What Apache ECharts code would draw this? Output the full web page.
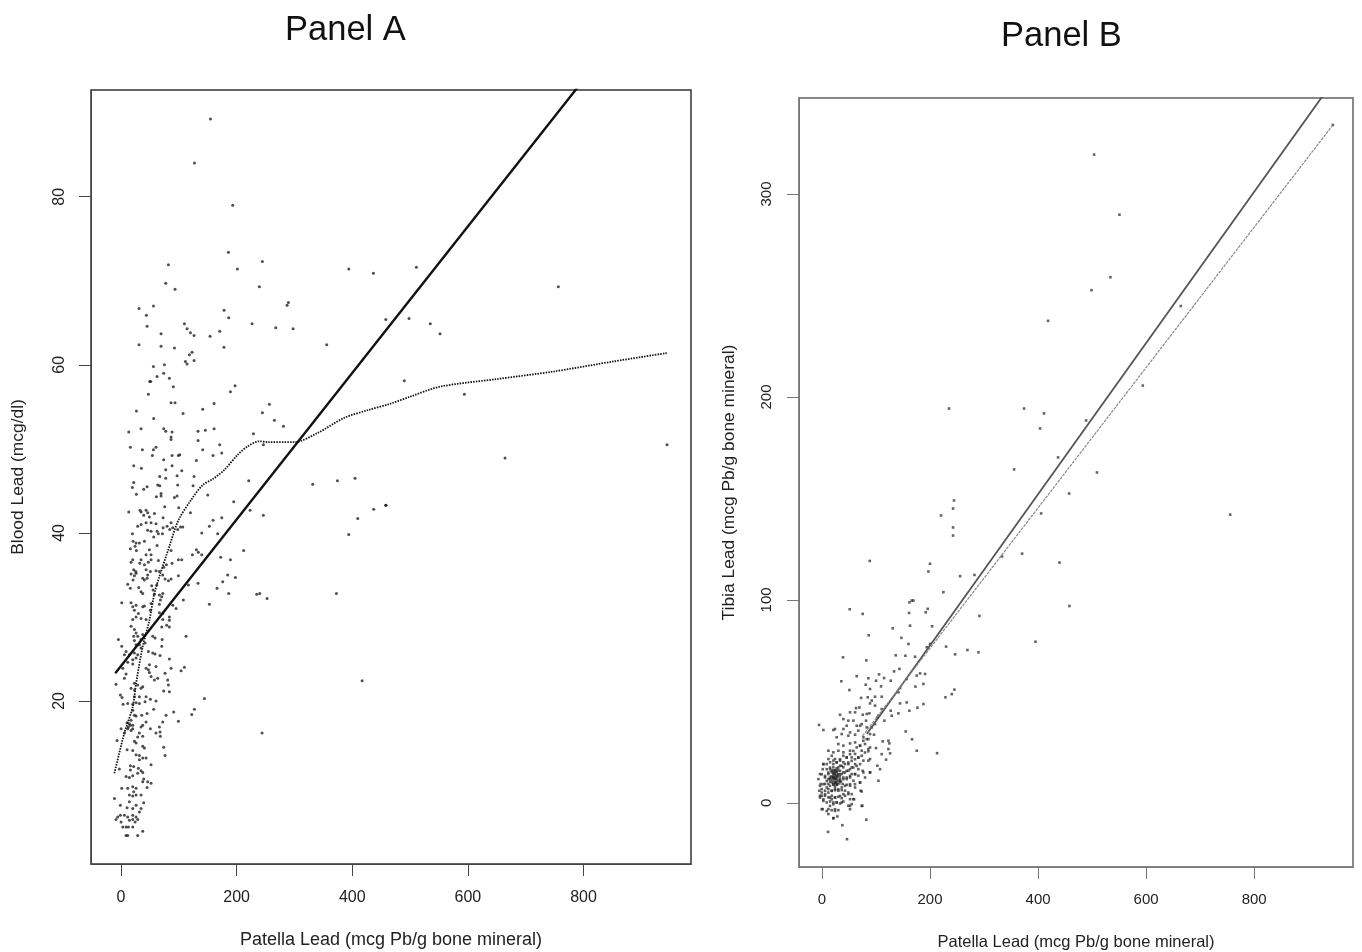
<!DOCTYPE html>
<html><head><meta charset="utf-8">
<style>html,body{margin:0;padding:0;background:#fff}#c{width:1362px;height:952px}</style>
<script src="https://cdn.jsdelivr.net/npm/echarts@6/dist/echarts.min.js"></script></head>
<body><div id="c"></div>
<script>
const xTickValues = [0,200,400,600,800];
const bloodTicks = [20,40,60,80];
const tibiaTicks = [0,100,200,300];
const bloodPoints = [
[154.6,89.25],[126.9,84],[193.2,79],[185.7,73.4],[244.5,72.3],[81.9,71.9],[201.3,71.4],[394,71.4],[436.6,70.9],[77.3,69.7],[93.4,69],[239.3,69.3],[289.5,67.4],[287.2,67.1],[31.1,66.7],[56,67],[178.2,66.5],[43.8,65.9],[186.3,65.6],[45,64.6],[109.6,64.9],[226.6,64.9],[267.6,64.4],[297.6,64.3],[114.2,64.3],[120,63.8],[126.3,63.5],[170.7,64],[69.2,63.7],[154,63.4],[458,65.4],[31.1,62.4],[69.2,62.2],[92.3,62],[178,62.1],[355.8,62.4],[122.8,61.5],[118.2,61.2],[111.3,60.4],[114.2,60.1],[126.3,60.5],[75,60],[56,59.8],[73.8,59],[62.3,58.6],[83.6,58.4],[49.6,58],[51.3,58],[90.5,57.4],[197.2,57.5],[189.2,56.8],[47.3,56.5],[86.5,55.5],[93.4,55.5],[160.9,55.4],[256.6,55.3],[26.5,54.5],[141.3,54.7],[107.3,54.2],[244.5,54.3],[56.5,53.6],[265.3,53.4],[280.9,52.7],[34.6,52.4],[73.8,52.4],[77.3,52.1],[160.9,52.4],[13.3,52],[88.2,52],[133.2,52.1],[145.9,52.2],[229,51.8],[86.5,51.4],[86.5,51.1],[133.2,51],[16.1,50.2],[170.7,50.5],[246.2,50.5],[36.9,49.9],[56,49.9],[60.5,50.2],[141.3,49.9],[54.2,49.2],[88.2,49.2],[99.2,49.2],[101.5,49.3],[159.2,49.2],[174.2,49.5],[73.8,48.7],[130.3,48.6],[21.9,48],[35.2,47.7],[88.2,48],[77.3,47.5],[105,47.4],[66.9,46.7],[77.3,46.5],[96.9,46.8],[126.3,46.7],[404.8,46.5],
[21.9,46],[19.6,45.4],[39.2,45.2],[45,45.5],[63.4,45.7],[66.9,45.6],[98,45.7],[124.6,45.6],[220.9,46.2],[331.6,45.8],[374.3,46.2],[26.5,44.6],[69.2,44.7],[61.1,44.3],[69.2,44.4],[96.9,44.4],[92.3,44.2],[150,44.5],[194.9,43.7],[75.6,43.1],[99.8,43],[13.3,42.5],[32.9,42.7],[34.6,42.5],[43.3,42.7],[46.1,42.4],[49,41.9],[57.7,42.3],[39.2,42.1],[120,42.4],[223.2,42.7],[246.2,42.1],[437.1,42.8],[458.5,43.3],[409.5,41.7],[72.7,41.8],[174.2,41.8],[159.2,41.5],[34.6,41],[28.8,40.8],[43.3,41.2],[51.9,41.2],[60.5,41.1],[86.5,41.2],[79.6,40.8],[72.7,40.6],[84.2,40.4],[89.4,40.6],[98,40.4],[102.7,40.7],[106.7,40.7],[152.8,40.8],[46.1,40.3],[51.9,40.2],[62.3,40.2],[64.6,39.9],[56.5,39.5],[71.5,39.9],[19.6,39.9],[139.6,40],[167.2,39.9],[393.9,39.8],[20.8,39],[26,38.8],[31.7,38.8],[40.4,39],[24.2,38.4],[62.3,38.5],[16.1,38.1],[26.5,37.9],[49,38],[51.9,37.4],[43.3,37.4],[86.5,37.9],[130.3,38],[133.8,37.7],[139.6,37.4],[123.4,37.4],[212.2,37.9],[172.4,37.1],[189.2,36.8],[99.2,36.8],[105,36.8],[20.2,36.8],[17.3,36.5],[34.6,36.8],[32.3,36.4],[40.4,36.2],[51.9,36.8],[47.3,36.5],[64.6,36.7],[88.2,36.4],[78.4,36.2],[73.8,35.9],[21.9,35.6],[17.3,35.1],[25.4,35.4],[23.1,34.9],[20.8,34.4],[26,35.2],[43.3,35.6],[37.5,34.6],[40.4,34.4],[46.1,35],[50.7,35.4],[45,34.6],[60.5,35.5],[66.3,35.4],[72.1,35],[99.2,34.9],[76.1,34.5],[81.9,34.3],[86.5,34.5],[184.5,35],[197.8,34.7],[175.9,34.2],[116.5,33.8],[133.2,34],[166.1,33.4],[11.5,33.9],[16.1,33.4],[30.6,33.5],[34.6,33],[37.5,32.8],[53,33.7],[55.4,33.2],[57.7,32.7],[61.7,33.8],[66.3,32.6],[70.4,32.4],[68,32],[72.1,32.8],[186.3,32.8],[234.7,32.7],[239.9,32.8],[252.6,32.2],[372.5,32.8],[107.8,32],[152.8,31.5],[1.2,31.7],[17.3,31.7],[20.2,31.2],[26,31.4],[23.1,30.8],[37.5,31.2],[40.4,31.3],[51.9,31.6],[50.7,30.8],[66.3,31.5],[89.4,31.4],[95.2,31],[30,30.4],[26,30],[20.2,29.7],[34.6,29.8],[43.3,29.7],[66.3,30.5],[72.1,30.4],[83.6,30],[83.6,29.6],[72.1,29.7],[17.3,28.9],[23.1,28.5],[26,28.1],[21.9,27.7],[28.8,27.7],[23.1,27.2],[34.6,27.3],[37.5,27.9],[41.5,26.9],[31.7,26.7],[26,26.7],[34.6,26.3],[83.6,28.8],[79,29],[70.4,28.8],[112.5,27.7],[-4.6,27.3],[1.2,26.5],[54.8,27.7],[58.8,27.5],[71,27.3],[70.4,26.5],[8.7,25.9],[5.8,25.5],[14.4,25.5],[23.1,25.7],[28.8,25.5],[26,25.1],[20.2,24.9],[47.3,25.9],[54.8,25.7],[58.8,25.6],[67.5,25.4],[83.6,25],[86.5,23.9],[80.7,22.5],[11.5,24.6],[20.2,24.4],[2.9,23.9],[49,24.3],[43.3,23.9],[47.3,23.7],[60.5,24.1],[76.1,23.3],[103.8,23.6],[109.6,24],[8.7,23.2],[5.8,22.7],[-8.7,22],[49,23.4],[51.9,22.9],[57.7,22.5],[63.4,22.7],[23.1,22.1],[28.8,21.9],[23.1,21.3],[17.3,21.5],[34.6,21.5],[37.5,21.7],[81.9,21.9],[73.8,21.2],[83.6,21.1],[-1.2,20.7],[1.7,20.4],[23.1,20.5],[31.7,20.5],[43.3,20.5],[50.7,20.2],[60.5,20],[144.2,20.3],[3.5,19.6],[11.5,19.7],[20.2,19.6],[26,19.8],[31.7,19.7],[41.5,19.9],[56.5,19],[126.9,19],[122.3,18.4],[91.1,18.7],[77.9,18.3],[417,22.4],[20.2,18.9],[23.1,18.3],[26,18.2],[35.8,18.3],[45,18.5],[17.3,17.7],[14.4,17.3],[20.2,17.1],[11.5,16.7],[17.3,16.5],[12.7,16.9],[20.2,16.7],[10.4,17.4],[16.1,17.1],[0,16.7],[5.8,16.2],[-6.9,15.3],[34.6,16.9],[37.5,17.1],[43.3,17.5],[50.7,16.7],[72.1,17.5],[99.2,17.6],[66.3,16.9],[67.5,16.3],[60.5,16.2],[68,15.8],[31.7,16.2],[37.5,15.8],[28.8,15.7],[243.9,16.2],[23.1,15.2],[26,15],[37.5,14.6],[40.4,14.4],[10.4,14.2],[20.2,14.1],[73.8,14.5],[26,13.6],[31.7,13.5],[37.5,13.2],[43.3,13.2],[31.7,13],[76.1,13.5],[51.9,12.4],[16.1,12.3],[21.9,12.2],[30,12],[34.6,11.7],[37.5,11.5],[28.8,11.4],[16.1,11.8],[-2.9,11.9],[20.2,11.1],[14.4,10.9],[8.7,11],[39.2,10.7],[46.1,10.4],[51.9,10.2],[37.5,10.4],[1.2,9.6],[11.5,9.6],[20.2,9.8],[26,9.6],[21.9,9.2],[45,9.7],[-11.5,8.4],[14.4,8.8],[20.2,8.7],[26,8.8],[34.6,8.8],[39.2,7.9],[-1.2,7.6],[10.4,7.3],[20.2,7.2],[26,7.6],[14.4,8],[34.6,7.2],[31.7,6.8],[-1.2,6.4],[5.8,6.4],[-8.7,5.9],[-5.8,6.2],[11.5,6.2],[20.2,6.4],[26,6.2],[14.4,5.8],[20.2,5.9],[24.2,5.6],[0,5.6],[28.8,5.9],[2.9,5],[8.7,5],[12.7,5],[20.2,5],[37.5,4.5],[8.7,4],[11.5,4],[28.8,4],
[510.9,71.6],[756.5,69.3],[498.2,65.5],[535,64.9],[551.8,63.7],[490,58.1],[593.9,56.5],[664.3,48.9],[944.5,50.5],[457.8,43.3]
];
const bloodLinearFit = [[-10,23.3],[800,93.9]];
const bloodSmoothFit = [[-11.5,11.4],[5.8,16.2],[20.2,19.3],[26,22.1],[37.5,26.5],[49,29.6],[57.7,32.8],[66.3,34.8],[83.6,38.4],[99.2,41.5],[121,43.9],[141.3,45.7],[158.6,46.4],[178.8,47.5],[201.8,49.3],[219,50.3],[239.3,50.9],[253.7,50.8],[299.9,50.8],[340.3,51.9],[386.4,53.7],[426.8,54.6],[467,55.4],[499.9,56.2],[551.8,57.4],[649.8,58.3],[747.9,59.2],[851.7,60.4],[944,61.4]];
const tibiaPoints = [
[503.7,319.4],[550.6,289.8],[533.9,259],[498.8,252.6],[418.5,237.5],[664.2,244.8],[593.8,205.6],[945.7,334],[755.6,142],
[235.2,194.3],[374,194.3],[411,191.9],[403.7,184.5],[488.9,188.4],[437,170.2],[355.6,164.3],[509,162.8],[457.4,152.4],[405.6,142.6],[220.4,141.6],[244.4,149],[242.6,145],[242.6,135.7],[242.6,131.7],[370.4,122.8],[333.3,121.4],
[88.3,119.2],[200,117.8],[197,114],[439.6,118.4],[255.6,111.7],[282.2,112.3],[458,97],[224.7,103.8],[51.3,95.4],[75.3,93.1],[161.8,98.8],[166.1,99.7],[169.2,99.7],[161.2,93.6],[192,93.9],[195.7,95.6],[291.4,92.1],[163,87.3],[130.9,86],[203.8,87],[86.5,82.6],[147,81.3],[160,78.3],[193.9,76.7],[200,78.3],[229.7,77],[246.4,73.2],[269.2,75.3],[289.6,74.2],[395.1,79.4],[136.5,72.7],[154.4,72.5],[172.3,72],[38.9,71.7],[82.1,70.2],[133.4,64.8],[143.3,66],[105.6,63.3],[64.2,62.4],[85.8,61.4],[100,60.2],[114.9,61.5],[127.2,60.2],[35.8,59.9],[175.4,62.7],[181.5,63.8],[190.8,63.5],[156.8,61],[80.9,58.2],[109.3,57.4],[88.9,56.1],[187.7,58.6],[172.9,57.3],[50.7,55.6],[144.5,56.6],[141.4,54.5],[245.1,55.8],[240.2,53.6],[228.5,52],[72.3,51.7],[84.6,52],[98.2,52.3],[110.5,52.3],[92,50.4],[88.9,49],[98.2,47.9],[144.5,49],[156.8,49.5],[187.7,48.7],[176.6,46.9],[63,46.7],[69.2,47],[51.9,44.6],[61.2,44.6],[75.4,43.4],[82.8,43.8],[87.7,44.1],[104.4,43],[110.5,46.2],[127.2,45.4],[129,42.9],[141.4,44.1],[161.8,45.4],[33.4,43.4],[39.5,41.3],[48.8,40.5],[58.1,40.5],[73.5,38.8],[81.5,40.5],[98.2,38.8],[102.5,42.1],[115.5,40.5],[-5.5,38.4],[2.5,35.9],[21,35.9],[24.1,36.4],[45.7,38],[39.5,36.4],[64.2,38],[70.4,38],[51.9,34.7],[82.8,37.2],[67.3,35.6],[92,37.2],[155,35.2],[36.5,33.9],[27.2,32.3],[48.8,33.1],[61.2,33.6],[76.6,32.3],[85.8,31.4],[96.3,33.6],[166.7,31.3],[122.9,30.6],[124.7,29.3],[112.4,30.3],[30.3,29],[39.5,28.2],[51.9,29.3],[61.2,29.8],[70.4,28.2],[79.7,29],[88.9,27.3],[100,27],[73.5,25.7],[85.8,25.4],[175.4,25.7],[213,24.5],[122.9,26.5],[126,24.4],[110.5,24],[118.6,21.3],[11.8,25.7],[21,24.9],[30.3,25.7],[39.5,24.9],[51.9,25.7],[61.2,24.1],[45.7,22.4],[55,22.4],[67.3,22.4],[88.9,21.6],[76.6,20.8],[85.8,20.8],[102.5,18.3],[107.5,16.6],[2.5,19.1],[11.8,21.6],[18,23.2],[24.1,21.6],[33.4,20.8],[39.5,20],
[-6.7,11.7],[-3.7,14.2],[1.3,16.6],[-2.4,9.3],[-4.9,6],[-0.6,3.5],[2.5,1],[1.3,-3.1],
[8.7,19.1],[14.9,20],[21,20.8],[27.2,20],[33.4,18.3],[39.5,17.5],[48.8,19.1],[55,17.5],[61.2,19.1],[67.3,16.6],[75.4,15.8],[88.9,15],[79.7,12.5],[104.4,10.9],
[8.7,16.6],[14.9,16.6],[21,17.5],[27.2,17.1],[33.4,15.8],[11.8,14.2],[18,15],[21,14.2],[27.2,15],[30.3,14.2],[36.5,14.2],[42.6,15],[48.8,15.8],[55,14.2],[61.2,14.2],[67.3,13.4],
[5.6,12.5],[11.8,11.7],[14.9,12.5],[21,12.5],[24.1,11.7],[28.4,12.5],[33.4,11.7],[39.5,12.5],[45.7,11.7],[51.9,12.5],[58.1,10.9],[70.4,10.1],
[5.6,9.3],[11.8,9.3],[18,10.1],[24.1,9.6],[27.2,8.9],[32,9.6],[38.3,9.3],[45.7,8.9],[51.9,8.4],[61.2,7.6],[71.6,6],
[-0.6,6.8],[5.6,6],[11.8,6.8],[18,6],[24.1,6.8],[30.3,6],[36.5,6.3],[42.6,6],[48.8,5.1],[55,4.3],
[-3.7,3.5],[5.6,3.5],[11.8,2.7],[18,3.5],[24.1,2.7],[30.3,3],[36.5,2.3],[42.6,3.5],[51.9,1.8],[59.3,1.8],
[8.7,0.2],[14.9,0.7],[21,0.2],[27.2,0.2],[33.4,-0.3],[39.5,0.7],[48.8,-1.4],[55,-0.6],[74.7,-1.4],
[11.8,-3.1],[18,-3.6],[24.1,-3.1],[30.3,-3.6],[51.9,-3.1],
[11.8,-5.5],[21,-7.5],[28.4,-6.7],[37.7,-11],[11.2,-14.3],[46.3,-17.9],[82.1,-8.3],
[24,14],[25,13],[22,15],[26,15.5],[23,12],[27,11],[20,13],[29,13.5],[25,16],[22,10.5],[28,9],[24,8],[19,11.5],[31,11],[17,13],[26,12],[23,14.5],[21,9],[33,13],[30,16],[35,10.5],[15,10.5],[20,16],[25,10],
[2.5,19.1],[-0.6,14.1],[5.6,13.3],[11.7,15],[14.8,17.4],[21,19.1],[27.2,19.9],[33.3,21.5],[39.5,23.2],[45.7,22.3],[51.8,24],[58,25.6],[64.2,27.3],[70.4,28.1],[76.5,30.6],[82.7,31.4],[88.9,33.9],
[17.9,15.8],[24.1,16.1],[30.2,17.4],[36.4,18.2],[42.6,19.1],[48.8,19.9],[54.9,20.7],[61.1,21.5],[67.3,22.3],[73.4,23.2],[79.6,24.8],[85.8,26.5],
[8.7,10.8],[14.8,11.7],[21,12.5],[27.2,13.3],[33.3,14.1],[39.5,15],[45.7,15.8],[51.8,16.6],[58,17.4],[64.2,18.2],[70.4,19.1],
[-3.7,8.4],[2.5,9.2],[8.7,7.6],[14.8,8.4],[21,9.2],[27.2,10],[33.3,10.8],[39.5,11.7],[45.7,12.5],[51.8,13.3],[61.1,14.1],[76.5,15],[88.9,15],
[-0.6,5.1],[5.6,4.3],[11.7,5.1],[17.9,5.9],[24.1,6.2],[30.2,6.7],[36.4,7.6],[42.6,8.4],[51.8,9.2],[61.1,9.2],[70.4,10],
[-3.7,2.6],[2.5,1.8],[14.8,2.6],[17.9,1.8],[24.1,2.6],[33.3,3.4],[39.5,4.3],[48.8,4.3],[58,1.8],[73.4,5.6],
[-0.6,-3.1],[8.7,-4],[14.8,-1.5],[21,-0.7],[27.2,0.2],[36.4,0.2],[24.1,-4],[21,-7.6],[51.8,-1.5],[73.4,-1.5]
];
const tibiaFitSolid = [[82.8,33.9],[940,353.2]];
const tibiaFitGrey = [[75,33],[945.7,334]];

const font = '"Liberation Sans", Arial, sans-serif';
function xAxis(i,min,max,color,gap,nameSize,labelSize,margin){return {
  gridIndex:i,type:'value',min,max,name:'Patella Lead (mcg Pb/g bone mineral)',nameLocation:'middle',nameGap:gap,
  nameTextStyle:{fontFamily:font,fontSize:nameSize,color:'#222'},splitLine:{show:false},
  axisLine:{show:true,onZero:false,lineStyle:{color,width:1}},
  axisTick:{show:true,length:12,customValues:xTickValues,lineStyle:{color,width:1}},
  axisLabel:{customValues:xTickValues,fontFamily:font,fontSize:labelSize,color:'#222',margin}
};}
function yAxis(i,min,max,ticks,name,color,gap,nameSize,labelSize,margin){return {
  gridIndex:i,type:'value',min,max,name,nameLocation:'middle',nameGap:gap,
  nameTextStyle:{fontFamily:font,fontSize:nameSize,color:'#222'},splitLine:{show:false},
  axisLine:{show:true,onZero:false,lineStyle:{color,width:1}},
  axisTick:{show:true,length:12,customValues:ticks,lineStyle:{color,width:1}},
  axisLabel:{customValues:ticks,rotate:90,fontFamily:font,fontSize:labelSize,color:'#222',margin,align:'center',verticalAlign:'bottom'}
};}
const chart = echarts.init(document.getElementById('c'),null,{renderer:'canvas'});
chart.setOption({
  animation:false,backgroundColor:'#fff',
  title:[
    {text:'Panel A',left:280,top:8,textStyle:{fontFamily:font,fontSize:34.5,fontWeight:'normal',color:'#111'}},
    {text:'Panel B',left:996,top:14,textStyle:{fontFamily:font,fontSize:34.5,fontWeight:'normal',color:'#111'}}
  ],
  grid:[
    {left:91,top:90,width:600,height:774,outerBoundsMode:'none',show:true,borderColor:'#333',borderWidth:1.5,backgroundColor:'#fff'},
    {left:799,top:98,width:554,height:769,outerBoundsMode:'none',show:true,borderColor:'#888',borderWidth:2,backgroundColor:'#fff'}
  ],
  xAxis:[xAxis(0,-52,986,'#444',67,18,16,26),xAxis(1,-42.6,983,'#777',67,16.5,15,25)],
  yAxis:[yAxis(0,0.6,92.7,bloodTicks,'Blood Lead (mcg/dl)','#444',64,17.4,16,23),yAxis(1,-31.6,347.3,tibiaTicks,'Tibia Lead (mcg Pb/g bone mineral)','#777',61,17.4,15,25)],
  series:[
    {type:'scatter',xAxisIndex:0,yAxisIndex:0,data:bloodPoints,symbolSize:3,silent:true,itemStyle:{color:'#222'}},
    {type:'line',xAxisIndex:0,yAxisIndex:0,data:bloodLinearFit,showSymbol:false,silent:true,lineStyle:{color:'#111',width:2.4}},
    {type:'line',xAxisIndex:0,yAxisIndex:0,data:bloodSmoothFit,smooth:0.3,showSymbol:false,silent:true,lineStyle:{color:'#111',width:1.8,type:[1.5,1.2]}},
    {type:'scatter',xAxisIndex:1,yAxisIndex:1,data:tibiaPoints,symbol:'rect',symbolSize:2.6,silent:true,itemStyle:{color:'#222',opacity:0.7}},
    {type:'line',xAxisIndex:1,yAxisIndex:1,data:tibiaFitSolid,showSymbol:false,silent:true,lineStyle:{color:'#555',width:1.8}},
    {type:'line',xAxisIndex:1,yAxisIndex:1,data:tibiaFitGrey,showSymbol:false,silent:true,lineStyle:{color:'#888',width:1.2,type:[3,1]}}
  ]
});
</script></body></html>
